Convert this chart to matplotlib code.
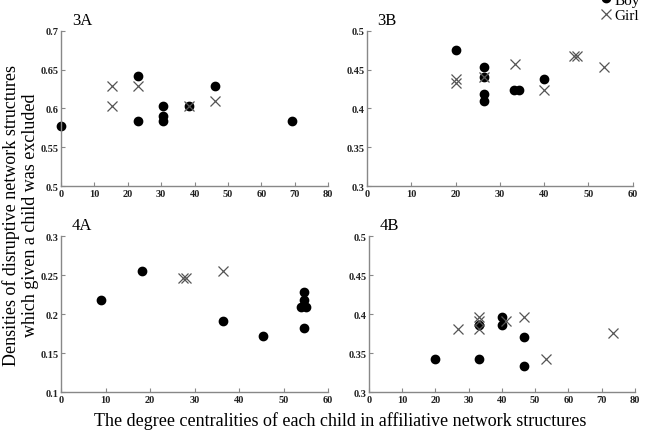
import numpy as np
import matplotlib
matplotlib.use("Agg")
import matplotlib.pyplot as plt

plt.rcParams['font.family'] = ['Liberation Serif', 'DejaVu Serif']

# 3A
boy3a_x = [0, 22.9, 22.9, 30.6, 30.6, 30.6, 38.4, 46.1, 69.1]
boy3a_y = [0.577, 0.642, 0.584, 0.603, 0.590, 0.584, 0.603, 0.629, 0.584]
girl3a_x = [15.4, 15.4, 23.0, 38.4, 46.1]
girl3a_y = [0.629, 0.603, 0.629, 0.603, 0.609]

# 3B
boy3b_x = [20.0, 26.5, 26.5, 26.5, 26.5, 33.2, 34.4, 40.0]
boy3b_y = [0.476, 0.453, 0.441, 0.419, 0.410, 0.424, 0.424, 0.438]
girl3b_x = [20.0, 20.0, 26.5, 33.4, 40.0, 46.7, 47.3, 53.4]
girl3b_y = [0.438, 0.433, 0.441, 0.457, 0.424, 0.467, 0.467, 0.453]

# 4A
boy4a_x = [9.0, 18.1, 36.4, 45.4, 54.5, 54.5, 54.0, 55.0, 54.5]
boy4a_y = [0.218, 0.255, 0.191, 0.172, 0.228, 0.218, 0.209, 0.209, 0.182]
girl4a_x = [27.3, 28.0, 36.4]
girl4a_y = [0.246, 0.246, 0.255]

# 4B
boy4b_x = [19.9, 33.2, 33.2, 40.0, 40.0, 46.7, 46.7]
boy4b_y = [0.343, 0.386, 0.343, 0.396, 0.386, 0.371, 0.333]
girl4b_x = [26.7, 33.2, 33.2, 33.2, 41.3, 46.7, 53.4, 73.4]
girl4b_y = [0.381, 0.396, 0.391, 0.381, 0.391, 0.396, 0.343, 0.376]

panels = [
    ("3A", boy3a_x, boy3a_y, girl3a_x, girl3a_y, (0, 80), np.arange(0, 81, 10), (0.5, 0.7), [0.5, 0.55, 0.6, 0.65, 0.7]),
    ("3B", boy3b_x, boy3b_y, girl3b_x, girl3b_y, (0, 60), np.arange(0, 61, 10), (0.3, 0.5), [0.3, 0.35, 0.4, 0.45, 0.5]),
    ("4A", boy4a_x, boy4a_y, girl4a_x, girl4a_y, (0, 60), np.arange(0, 61, 10), (0.1, 0.3), [0.1, 0.15, 0.2, 0.25, 0.3]),
    ("4B", boy4b_x, boy4b_y, girl4b_x, girl4b_y, (0, 80), np.arange(0, 81, 10), (0.3, 0.5), [0.3, 0.35, 0.4, 0.45, 0.5]),
]

rects = [
    [0.091, 0.566, 0.398, 0.360],
    [0.547, 0.566, 0.396, 0.360],
    [0.091, 0.088, 0.398, 0.362],
    [0.550, 0.088, 0.396, 0.362],
]

fig = plt.figure(figsize=(6.71, 4.31), dpi=100)

for rect, (name, bx, by, gx, gy, xl, xt, yl, yt) in zip(rects, panels):
    ax = fig.add_axes(rect)
    b = ax.plot(bx, by, 'o', color='black', ms=6, linestyle='none', label='Boy', clip_on=False)
    g = ax.plot(gx, gy, 'x', color='#555555', ms=7, mew=0.9, linestyle='none', label='Girl', clip_on=False)
    ax.set_xlim(*xl)
    ax.set_ylim(*yl)
    ax.set_xticks(xt)
    ax.set_yticks(yt)
    ax.set_yticklabels([('%g' % v) for v in yt])
    for s in ['top', 'right']:
        ax.spines[s].set_visible(False)
    for s in ['left', 'bottom']:
        ax.spines[s].set_color('#888888')
        ax.spines[s].set_linewidth(1.0)
    ax.tick_params(direction='in', length=3, width=0.8, color='#888888', labelsize=7.5, pad=2)
    for lab in ax.get_xticklabels() + ax.get_yticklabels():
        lab.set_fontweight('bold')
        lab.set_color('#222222')
    ax.text(0.04, 1.02, name, transform=ax.transAxes, fontsize=12, va='bottom', ha='left')

fig.legend(handles=[b[0], g[0]], labels=['Boy', 'Girl'], loc='upper left',
           bbox_to_anchor=(0.885, 1.028), frameon=False, fontsize=11,
           handlelength=0.8, handletextpad=0.15, labelspacing=0.1, borderaxespad=0)

fig.text(0.016, 0.5, "Densities of disruptive network structures", rotation=90,
         fontsize=13, ha='center', va='center')
fig.text(0.045, 0.5, "which given a child was excluded", rotation=90,
         fontsize=13, ha='center', va='center')
fig.text(0.507, 0.022, "The degree centralities of each child in affiliative network structures",
         fontsize=13, ha='center', va='center')

fig.savefig("out.png", dpi=100)
